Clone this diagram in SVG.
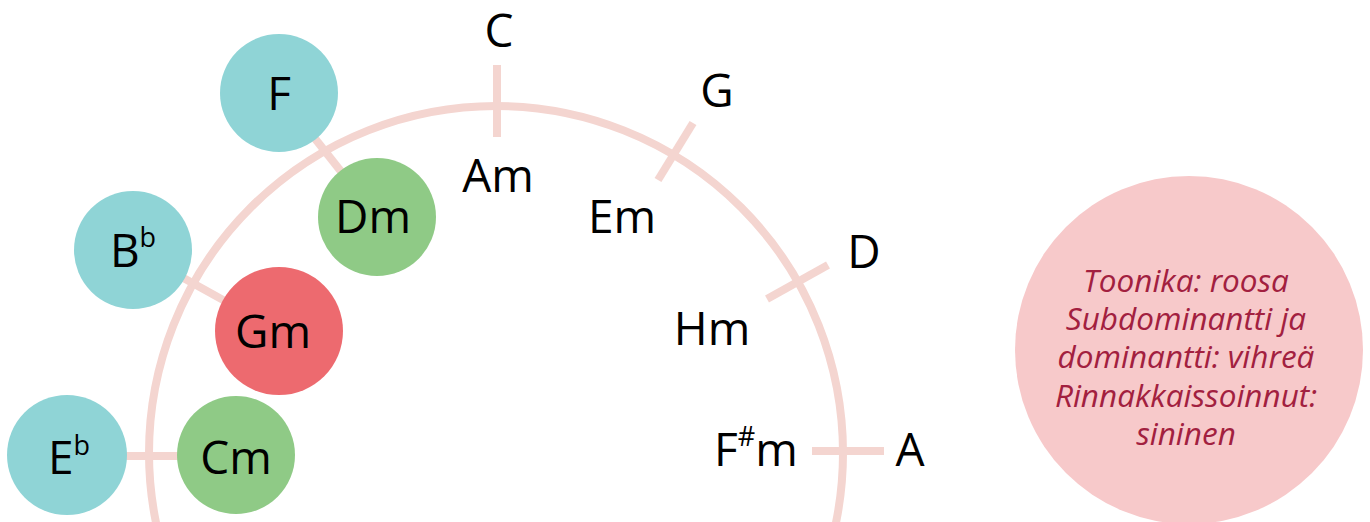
<svg xmlns="http://www.w3.org/2000/svg" width="1370" height="522" viewBox="0 0 1370 522">
<style>
.arc{fill:none;stroke:#f4d5d0;stroke-width:8}
.tick{stroke:#f4d5d0;stroke-width:8;fill:none}
.lbl{font-family:"Open Sans","Noto Sans","Liberation Sans",sans-serif;font-size:46px;fill:#000;text-anchor:middle}
.sup{font-size:27px}
.blue{fill:#8fd4d6}
.green{fill:#8fca86}
.red{fill:#ed6a6f}
.legend{font-family:"Open Sans","Noto Sans","Liberation Sans",sans-serif;font-style:italic;font-size:31.5px;fill:#a2203f;text-anchor:middle}
</style>
<rect width="1370" height="522" fill="#fff"/>
<circle class="arc" cx="496" cy="453" r="347"/>
<g id="connectors">
<line class="tick" x1="497" y1="65" x2="497" y2="137"/>
<line class="tick" x1="658" y1="180" x2="693" y2="123"/>
<line class="tick" x1="767" y1="299" x2="828" y2="265"/>
<line class="tick" x1="812" y1="451" x2="884" y2="451"/>
<line class="tick" x1="279" y1="93" x2="377" y2="217"/>
<line class="tick" x1="133" y1="250" x2="279" y2="331"/>
<line class="tick" x1="67" y1="456" x2="236" y2="456"/>
</g>
<g id="node-C"><text class="lbl" x="499" y="47">C</text></g>
<g id="node-Am"><text class="lbl" x="498" y="192">Am</text></g>
<g id="node-G"><text class="lbl" x="717" y="107">G</text></g>
<g id="node-Em"><text class="lbl" x="622" y="233">Em</text></g>
<g id="node-D"><text class="lbl" x="864" y="268">D</text></g>
<g id="node-Hm"><text class="lbl" x="712" y="345">Hm</text></g>
<g id="node-A"><text class="lbl" x="910" y="466">A</text></g>
<g id="node-Fsm"><text class="lbl" x="756" y="466">F<tspan class="sup" dy="-20">#</tspan><tspan dy="20">m</tspan></text></g>
<g id="node-F"><circle class="blue" cx="279" cy="93" r="59"/><text class="lbl" x="279" y="110">F</text></g>
<g id="node-Dm"><circle class="green" cx="377" cy="217" r="59"/><text class="lbl" x="373" y="233">Dm</text></g>
<g id="node-Bb"><circle class="blue" cx="133" cy="250" r="59"/><text class="lbl" x="133" y="267">B<tspan class="sup" dy="-20">b</tspan></text></g>
<g id="node-Gm"><circle class="red" cx="279" cy="331" r="64"/><text class="lbl" x="273" y="348">Gm</text></g>
<g id="node-Eb"><circle class="blue" cx="67" cy="455" r="60"/><text class="lbl" x="69" y="474">E<tspan class="sup" dy="-19">b</tspan></text></g>
<g id="node-Cm"><circle class="green" cx="236" cy="455" r="59"/><text class="lbl" x="236" y="474">Cm</text></g>
<g id="legend">
<circle cx="1189" cy="350" r="174" fill="#f7c9ca"/>
<text class="legend" x="1186" y="292">Toonika: roosa</text>
<text class="legend" x="1186" y="330">Subdominantti ja</text>
<text class="legend" x="1186" y="368">dominantti: vihreä</text>
<text class="legend" x="1186" y="407">Rinnakkaissoinnut:</text>
<text class="legend" x="1186" y="445">sininen</text>
</g>
</svg>
